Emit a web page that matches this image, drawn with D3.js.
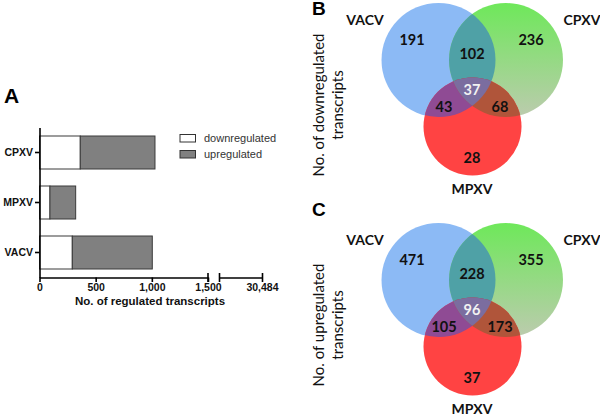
<!DOCTYPE html>
<html><head><meta charset="utf-8">
<script src="https://cdn.jsdelivr.net/npm/d3@7"></script>
<style>
html,body{margin:0;padding:0;background:#fff;}
svg{display:block;}
</style></head>
<body>
<script>
// ---- Data ----
const categories = ["CPXV", "MPXV", "VACV"];
const downregulated = [363, 93, 292];
const upregulated = [665, 229, 712];
const xTicks = [0, 500, 1000, 1500];
const xTickTotal = [30484];
const seriesNames = ["downregulated", "upregulated"];

const vennSets = ["VACV", "CPXV", "MPXV"];
// regions: onlyVACV, onlyCPXV, onlyMPXV, VACV∩CPXV, VACV∩MPXV, CPXV∩MPXV, all
const vennDown = [191, 236, 28, 102, 43, 68, 37];
const vennUp = [471, 355, 37, 228, 105, 173, 96];

const W = 600, H = 415;
const svg = d3.select("body").append("svg").attr("width", W).attr("height", H);
const defs = svg.append("defs");

// ---- Panel A: stacked horizontal bars ----
const x = d3.scaleLinear().domain([0, 1500]).range([39.5, 208]);
const x2 = d3.scaleLinear().domain([30100, 30484]).range([219.5, 262]);
const y = d3.scaleBand().domain(categories).range([127.5, 277.5]).paddingInner(0.34).paddingOuter(0.17);

const gA = svg.append("g");
const stackData = categories.map((c, i) => ({cat: c, down: downregulated[i], up: upregulated[i]}));
const stack = d3.stack().keys(["down", "up"])(stackData);
const fills = {down: "#ffffff", up: "#808080"};
gA.selectAll("g.layer").data(stack).join("g").attr("class", "layer")
  .selectAll("rect").data(d => d.map(v => ({v, key: d.key}))).join("rect")
  .attr("x", d => x(d.v[0]))
  .attr("y", d => y(d.v.data.cat))
  .attr("width", d => x(d.v[1]) - x(d.v[0]))
  .attr("height", y.bandwidth())
  .attr("fill", d => fills[d.key])
  .attr("stroke", "#3a3a3a").attr("stroke-width", 1);

// y axis
const yAxis = gA.append("g").attr("transform", "translate(39.5,0)")
  .call(d3.axisLeft(y).tickSize(4.5).tickSizeOuter(0).tickPadding(2));
yAxis.select(".domain").attr("stroke-width", 1.6);
yAxis.selectAll(".tick line").attr("stroke-width", 1.6);
yAxis.selectAll("text").attr("font-family", "Liberation Sans, Arial, sans-serif")
  .attr("font-weight", "bold").attr("font-size", 10.5).attr("fill", "#111");

// x axis part 1
const xAxis = gA.append("g").attr("transform", "translate(0,277.5)")
  .call(d3.axisBottom(x).tickValues(xTicks).tickFormat(d3.format(",")).tickSize(4.5).tickSizeOuter(0).tickPadding(2));
// x axis part 2 (after break)
const xAxis2 = gA.append("g").attr("transform", "translate(0,277.5)")
  .call(d3.axisBottom(x2).tickValues(xTickTotal).tickFormat(d3.format(",")).tickSize(4.5).tickSizeOuter(0).tickPadding(2));
[xAxis, xAxis2].forEach(a => {
  a.select(".domain").attr("stroke-width", 1.6);
  a.selectAll(".tick line").attr("stroke-width", 1.6);
  a.selectAll("text").attr("font-family", "Liberation Sans, Arial, sans-serif")
    .attr("font-weight", "bold").attr("font-size", 10.5).attr("fill", "#111");
});
// break marks
[x(1500), x2.range()[0]].forEach(px => {
  gA.append("line").attr("x1", px).attr("x2", px).attr("y1", 273).attr("y2", 282)
    .attr("stroke", "#000").attr("stroke-width", 1.6);
});
xAxis2.selectAll(".tick line").attr("y1", -4.5);

gA.append("text").attr("x", 150).attr("y", 305).attr("text-anchor", "middle")
  .attr("font-family", "Liberation Sans, Arial, sans-serif").attr("font-weight", "bold")
  .attr("font-size", 11.5).attr("fill", "#111").text("No. of regulated transcripts");

// legend
const leg = gA.append("g");
seriesNames.forEach((s, i) => {
  const yy = 134.5 + i * 16;
  leg.append("rect").attr("x", 180).attr("y", yy).attr("width", 15.5).attr("height", 7.5)
    .attr("fill", i === 0 ? fills.down : fills.up).attr("stroke", "#333").attr("stroke-width", 1);
  leg.append("text").attr("x", 204).attr("y", yy + 7.5)
    .attr("font-family", "Liberation Sans, Arial, sans-serif").attr("font-size", 11)
    .attr("fill", "#333").text(s);
});

gA.append("text").attr("x", 4).attr("y", 103).attr("font-family", "Liberation Sans, Arial, sans-serif")
  .attr("font-weight", "bold").attr("font-size", 21).text("A");

// ---- Panels B & C: Venn diagrams ----
const colBlue = "#8cbaf5", colRed = "#ff4343";
const colBG = "#4fa1a6", colBR = "#8f4b94", colGR = "#b0553a", colAll = "#7b6d9f";

function venn(offsetY, letter, ylabel, vals, id) {
  const g = svg.append("g").attr("transform", `translate(0,${offsetY})`);
  const circles = {
    VACV: {cx: 438.5, cy: 60, r: 57},
    CPXV: {cx: 506, cy: 60, r: 57},
    MPXV: {cx: 472.5, cy: 126.5, r: 49}
  };
  const grad = defs.append("linearGradient").attr("id", "gg" + id)
    .attr("x1", 0).attr("y1", 0).attr("x2", 0).attr("y2", 1);
  grad.append("stop").attr("offset", "0%").attr("stop-color", "#6ee85a");
  grad.append("stop").attr("offset", "100%").attr("stop-color", "#bccbae");
  vennSets.forEach(s => {
    const c = circles[s];
    defs.append("clipPath").attr("id", `clip${id}${s}`)
      .append("circle").attr("cx", c.cx).attr("cy", c.cy + offsetY).attr("r", c.r);
  });
  const circ = (sel, s) => sel.append("circle").attr("cx", circles[s].cx).attr("cy", circles[s].cy).attr("r", circles[s].r);
  circ(g, "VACV").attr("fill", colBlue);
  circ(g, "CPXV").attr("fill", `url(#gg${id})`);
  circ(g, "MPXV").attr("fill", colRed);
  // pairwise
  const cg = svg.append("g").attr("clip-path", `url(#clip${id}CPXV)`).append("g").attr("transform", `translate(0,${offsetY})`);
  circ(cg, "VACV").attr("fill", colBG);
  const rg = svg.append("g").attr("clip-path", `url(#clip${id}MPXV)`).append("g").attr("transform", `translate(0,${offsetY})`);
  circ(rg, "VACV").attr("fill", colBR);
  circ(rg, "CPXV").attr("fill", colGR);
  const tg = svg.append("g").attr("clip-path", `url(#clip${id}MPXV)`)
    .append("g").attr("clip-path", `url(#clip${id}CPXV)`)
    .append("g").attr("transform", `translate(0,${offsetY})`);
  circ(tg, "VACV").attr("fill", colAll);

  const lg = svg.append("g").attr("transform", `translate(0,${offsetY})`);
  const labelPos = [[412, 40], [531, 40], [472, 158], [472, 54], [444, 107], [500, 107], [472, 90]];
  vals.forEach((v, i) => {
    lg.append("text").attr("x", labelPos[i][0]).attr("y", labelPos[i][1] + 5)
      .attr("text-anchor", "middle").attr("font-family", "Lato, sans-serif").attr("font-weight", "bold")
      .attr("font-size", 14.5).attr("fill", i === 6 ? "#f2f2f2" : "#111").text(v);
  });
  const setPos = {VACV: [365, 25], CPXV: [582, 25], MPXV: [472, 194]};
  vennSets.forEach(s => {
    lg.append("text").attr("x", setPos[s][0]).attr("y", setPos[s][1]).attr("text-anchor", "middle")
      .attr("font-family", "Lato, sans-serif").attr("font-weight", "bold").attr("font-size", 14)
      .attr("fill", "#111").text(s);
  });
  const yl = lg.append("g").attr("transform", "translate(0,105) rotate(-90)");
  ylabel.forEach((t, i) => {
    yl.append("text").attr("x", 0).attr("y", 324 + i * 19).attr("text-anchor", "middle")
      .attr("font-family", "Lato, sans-serif").attr("font-size", 15).attr("fill", "#111").text(t);
  });
  svg.append("text").attr("x", 312).attr("y", offsetY + 15 - (id === "c" ? 19 : 0)).attr("font-family", "Liberation Sans, Arial, sans-serif")
    .attr("font-weight", "bold").attr("font-size", 19).text(letter);
}
venn(0, "B", ["No. of downregulated", "transcripts"], vennDown, "b");
venn(220, "C", ["No. of  upregulated", "transcripts"], vennUp, "c");
</script>
</body></html>
